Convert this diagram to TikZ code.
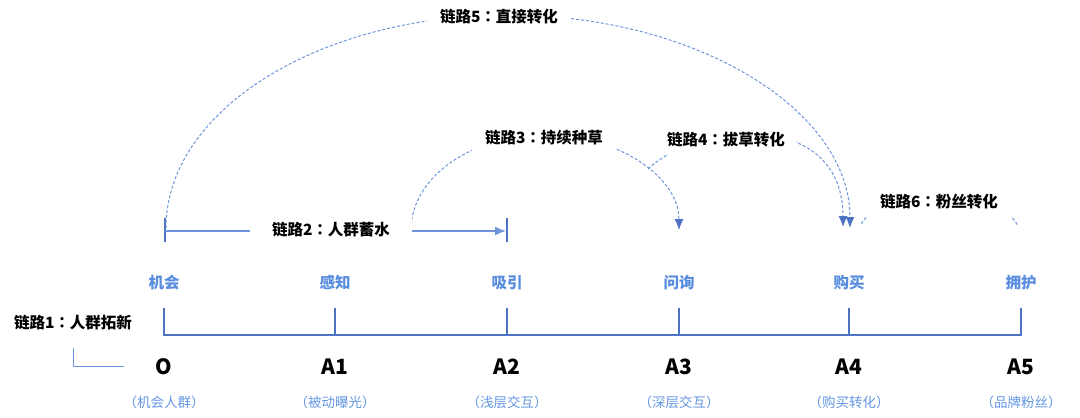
\documentclass[tikz,border=0pt]{standalone}
\usepackage{fontspec}
\setmainfont{Noto Sans CJK SC}
\newfontfamily\jpfont{Noto Sans CJK JP}
\newcommand{\zcolon}{{\jpfont ：}}
\usetikzlibrary{arrows.meta}
\definecolor{axisblue}{RGB}{78,115,196}
\definecolor{dashblue}{RGB}{110,148,218}
\definecolor{stageblue}{RGB}{88,140,222}
\definecolor{parenblue}{RGB}{100,150,228}
\tikzset{
  linklabel/.style={fill=white, inner xsep=13pt, inner ysep=0pt, minimum height=30pt,
    font=\bfseries\fontsize{15.5}{18}\selectfont, text=black},
  stagelabel/.style={font=\bfseries\fontsize{15.5}{18}\selectfont, text=stageblue},
  letterlabel/.style={font=\bfseries\fontsize{21}{24}\selectfont, text=black},
  parenlabel/.style={font=\fontsize{13.5}{16}\selectfont, text=parenblue},
  axisline/.style={draw=axisblue, line width=1.4pt},
  solidlink/.style={draw=dashblue, line width=1.4pt},
  linkarc/.style={draw=dashblue, line width=1pt, dash pattern=on 3pt off 2pt},
  dashtip/.style={-{Latex[length=11pt,width=9pt,color=axisblue]}},
}
\begin{document}
\begin{tikzpicture}[x=1pt,y=-1pt]
\useasboundingbox (0,0) rectangle (1080,418);

% ---- axis ----
\foreach \n/\x in {0/164,1/335,2/507,3/679,4/849,5/1021}{
  \coordinate (b\n) at (\x,335);
  \coordinate (t\n) at (\x,308);
}
\draw[axisline] (t0) -- (b0) -- (b5) -- (t5);
\foreach \n in {1,...,4} \draw[axisline] (t\n) -- (b\n);

% ---- stage labels ----
\node[stagelabel] (s0) at (164,283) {机会};
\node[stagelabel] (s1) at (335,283) {感知};
\node[stagelabel] (s2) at (507,283) {吸引};
\node[stagelabel] (s3) at (679,283) {问询};
\node[stagelabel] (s4) at (849,283) {购买};
\node[stagelabel] (s5) at (1021,283) {拥护};

\node[letterlabel] (l0) at (164,367) {O};
\node[letterlabel] (l1) at (335,367) {A1};
\node[letterlabel] (l2) at (507,367) {A2};
\node[letterlabel] (l3) at (679,367) {A3};
\node[letterlabel] (l4) at (849,367) {A4};
\node[letterlabel] (l5) at (1021,367) {A5};

\node[parenlabel] (p0) at (164,402) {（机会人群）};
\node[parenlabel] (p1) at (335,402) {（被动曝光）};
\node[parenlabel] (p2) at (507,402) {（浅层交互）};
\node[parenlabel] (p3) at (679,402) {（深层交互）};
\node[parenlabel] (p4) at (849,402) {（购买转化）};
\node[parenlabel] (p5) at (1021,402) {（品牌粉丝）};

% ---- link 1 ----
\node[font=\bfseries\fontsize{15.5}{18}\selectfont] (L1) at (73,323) {链路1\zcolon 人群拓新};
\coordinate (c1a) at (73,348);
\coordinate (c1b) at (73,366);
\coordinate (c1c) at (124,366);
\draw[draw=dashblue, line width=1pt] (c1a) -- (c1b) -- (c1c);

% ---- link 2 ----
\coordinate (k2a) at (165,218); \coordinate (k2b) at (165,242);
\coordinate (k2c) at (507,218); \coordinate (k2d) at (507,242);
\coordinate (m2a) at (165,231); \coordinate (m2b) at (506,231);
\draw[axisline] (k2a) -- (k2b);
\draw[axisline] (k2c) -- (k2d);
\draw[solidlink, -{Latex[length=11pt,width=9pt]}] (m2a) -- (m2b);

% ---- link 5 (big arc) ----
\coordinate (a5s) at (166,228);
\draw[linkarc, dashtip] (a5s) arc[start angle=180, end angle=360, x radius=342, y radius=213];

% ---- link 3 ----
\coordinate (a3s) at (411,230);
\draw[linkarc, dashtip] (a3s) arc[start angle=180, end angle=360, x radius=134, y radius=95];

% ---- link 4 ----
\coordinate (a4s) at (648,169);
\coordinate (a4e) at (843,227);
\draw[linkarc, dashtip] (a4s) .. controls (700,120) and (843,110) .. (a4e);

% ---- link 6 ----
\coordinate (a6s) at ({939+81*cos(15)},{235-40*sin(15)});
\draw[linkarc] (a6s) arc[start angle=-15, end angle=-165, x radius=81, y radius=40];

% ---- link labels (on top) ----
\node[linklabel, inner xsep=22pt] (L2) at (331,230) {链路2\zcolon 人群蓄水};
\node[linklabel] (L3) at (544,138) {链路3\zcolon 持续种草};
\node[linklabel, inner xsep=11pt] (L4) at (726,140) {链路4\zcolon 拔草转化};
\node[linklabel] (L5) at (499,17) {链路5\zcolon 直接转化};
\node[linklabel] (L6) at (939,202) {链路6\zcolon 粉丝转化};
\end{tikzpicture}
\end{document}
